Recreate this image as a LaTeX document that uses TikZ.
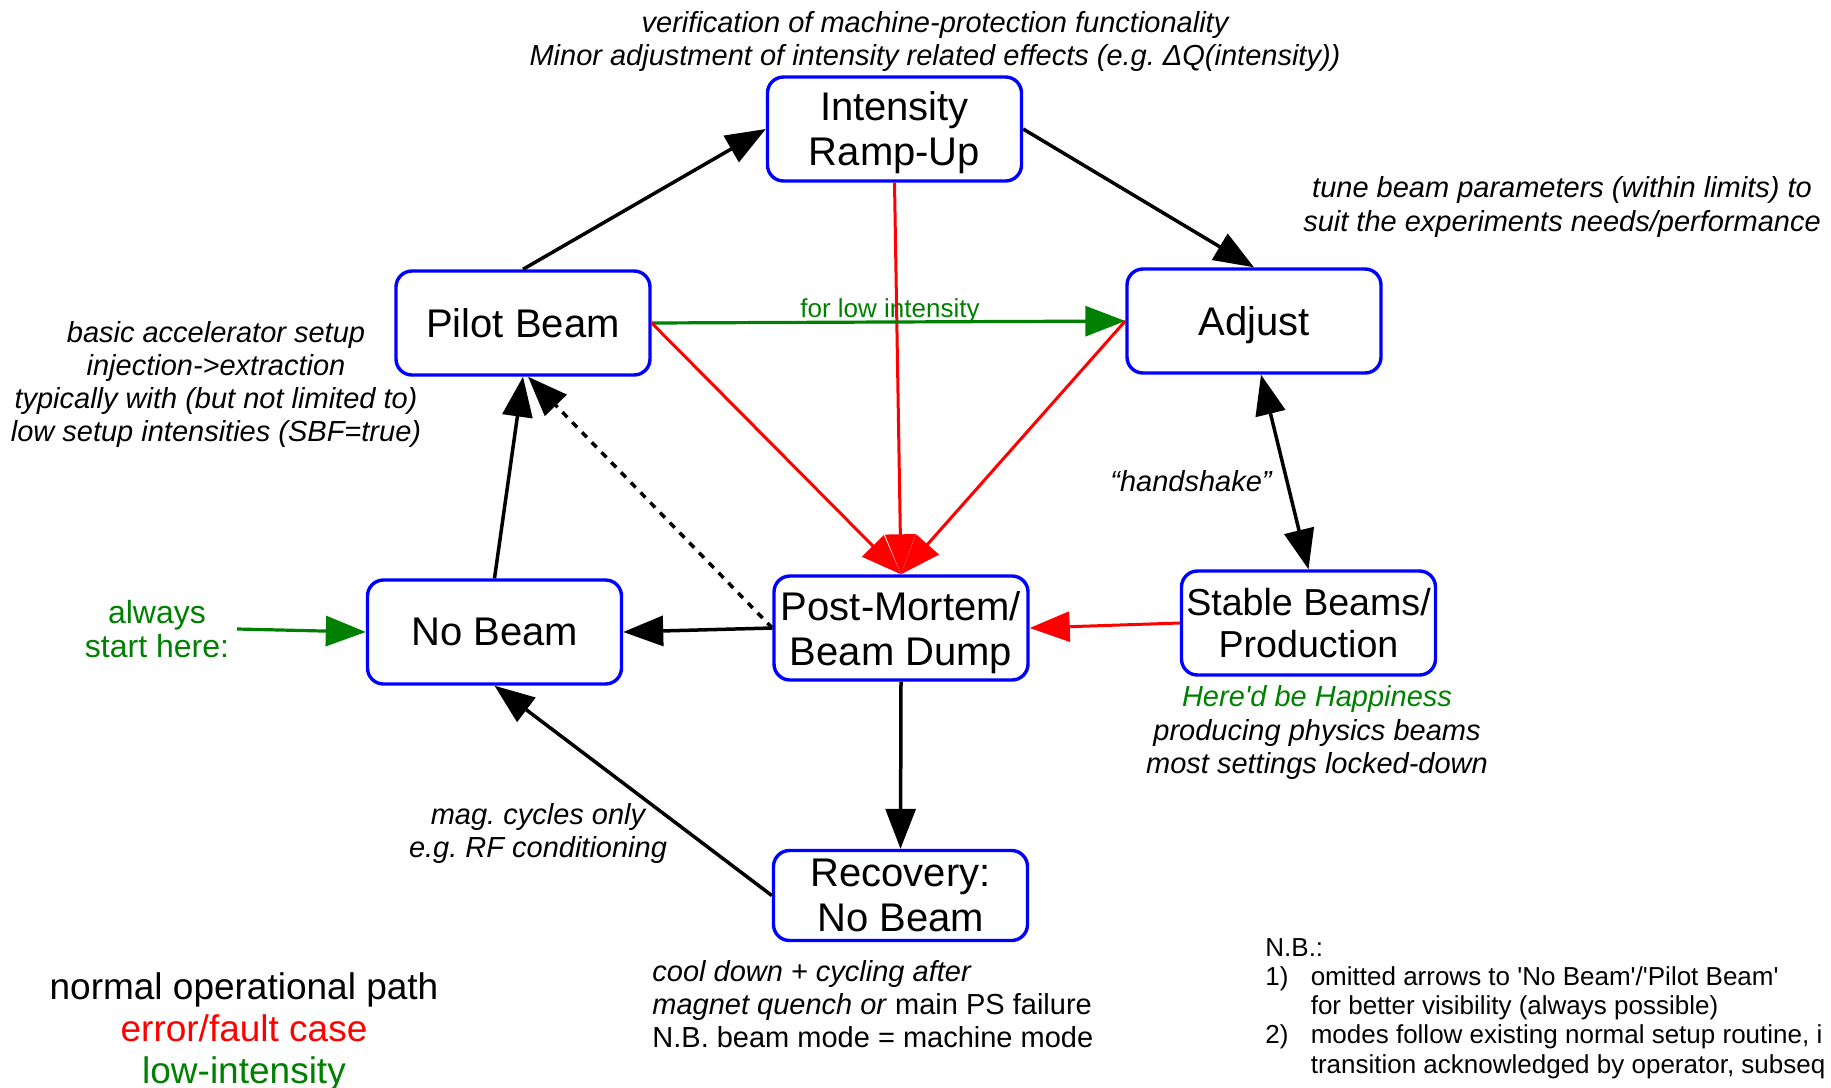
\documentclass[tikz,border=0pt]{standalone}
\usepackage{fontspec}
\setmainfont{Liberation Sans}
\newfontfamily\lsplain{Liberation Sans}[Ligatures=ResetAll]
\newcommand{\sq}{{\lsplain\char39}}
\newcommand{\sqi}{{\lsplain\itshape\char39}}
\usetikzlibrary{arrows.meta}
\definecolor{ggreen}{RGB}{0,128,0}
\definecolor{rred}{RGB}{255,0,0}
\definecolor{bblue}{RGB}{0,0,255}
\newcommand{\nodep}[1]{\raisebox{0pt}[\height][0pt]{#1}}
\begin{document}
\frenchspacing
\begin{tikzpicture}[x=0.5pt,y=-0.5pt,
  mode/.style={draw=bblue, line width=1.7pt, rounded corners=8pt, minimum width=127pt, minimum height=52pt, inner sep=0pt, align=center, font=\fontsize{20}{22.5}\selectfont},
  ann/.style={font=\itshape\fontsize{14.5}{16.6}\selectfont, align=center, inner sep=0pt},
  arr/.style={line width=1.75pt, -{Triangle[length=20pt,width=15pt]}},
  rarr/.style={arr, draw=rred, fill=rred, line width=1.5pt},
  garr/.style={arr, draw=ggreen, fill=ggreen, line width=1.6pt}
]
\useasboundingbox (0,0) rectangle (1831,1087);

% modes
\node[mode] (ramp) at (894.5,129) {Intensity\\\nodep{Ramp-Up}};
\node[mode] (pilot) at (523,323) {Pilot Beam};
\node[mode] (adjust) at (1254,321) {\nodep{Adjust}};
\node[mode] (nobeam) at (494.5,632) {No Beam};
\node[mode] (pm) at (901,628) {Post-Mortem/\\\nodep{Beam Dump}};
\node[mode, font=\fontsize{18.8}{21}\selectfont] (stable) at (1308.5,623) {Stable Beams/\\Production};
\node[mode, minimum height=45pt] (recovery) at (900.5,895.5) {Recovery:\\No Beam};

% annotations
\node[ann] (tRamp) at (935,41.5) {verification of machine-protection functionality\\Minor adjustment of intensity related effects (e.g. ΔQ(intensity))};
\node[ann] (tAdjust) at (1562,207) {tune beam parameters (within limits) to\\suit the experiments needs/performance};
\node[ann] (tPilot) at (216,384.5) {basic accelerator setup\\injection->extraction\\typically with (but not limited to)\\low setup intensities (SBF=true)};
\node[ann] (tHand) at (1191,481) {“handshake”};
\node[ann] (tStable) at (1317,732.5) {\textcolor{ggreen}{Here\sqi d be Happiness}\\producing physics beams\\most settings locked-down};
\node[ann] (tMag) at (538,833.5) {mag. cycles only\\e.g. RF conditioning};
\node[inner sep=0pt, anchor=west, align=left, font=\fontsize{14.5}{16.6}\selectfont] (tRec) at (652,1004) {\textit{cool down + cycling after}\\\textit{magnet quench or} main PS failure\\N.B. beam mode = machine mode};
\node[inner sep=0pt, align=center, text=ggreen, font=\fontsize{16}{17}\selectfont] (tStart) at (157,629.5) {always\\start here:};
\node[inner sep=0pt, align=center, text=ggreen, font=\fontsize{13}{14}\selectfont] (tLow) at (890,310.5) {for low intensity};
\node[inner sep=0pt, align=center, font=\fontsize{18.5}{21}\selectfont] (legend) at (244,1031.5) {normal operational path\\\textcolor{rred}{error/fault case}\\\textcolor{ggreen}{low-intensity}};
\node[inner sep=0pt, anchor=north west, font=\fontsize{13}{14.6}\selectfont] (nb) at (1265,935.5) {%
\begin{tabular}{@{}p{22.7pt}@{}l@{}}
\multicolumn{2}{@{}l@{}}{N.B.:}\\
1) & omitted arrows to \sq No Beam\sq/\sq Pilot Beam\sq\\
   & for better visibility (always possible)\\
2) & modes follow existing normal setup routine, i\\
   & transition acknowledged by operator, subseq
\end{tabular}};

\coordinate (start) at (237,629);

% connectors
\draw[arr] (pilot.north) -- (ramp.west);
\draw[arr] (ramp.east) -- (adjust.north);
\draw[rarr] (ramp.south) -- (pm.north);
\draw[garr] (pilot.east) -- (adjust.west);
\draw[rarr] (pilot.east) -- (pm.north);
\draw[rarr] (adjust.west) -- (pm.north);
\draw[arr, {Triangle[length=20pt,width=15pt]}-{Triangle[length=20pt,width=15pt]}] ([xshift=3.5pt]adjust.south) -- (stable.north);
\draw[rarr] (stable.west) -- (pm.east);
\draw[arr] (pm.west) -- (nobeam.east);
\draw[arr, dash pattern=on 3.5pt off 3.5pt] (pm.west) -- ([xshift=2.5pt]pilot.south);
\draw[arr] (nobeam.north) -- (pilot.south);
\draw[garr] (start) -- (nobeam.west);
\draw[arr] (pm.south) -- (recovery.north);
\draw[arr] (recovery.west) -- (nobeam.south);
\end{tikzpicture}
\end{document}
